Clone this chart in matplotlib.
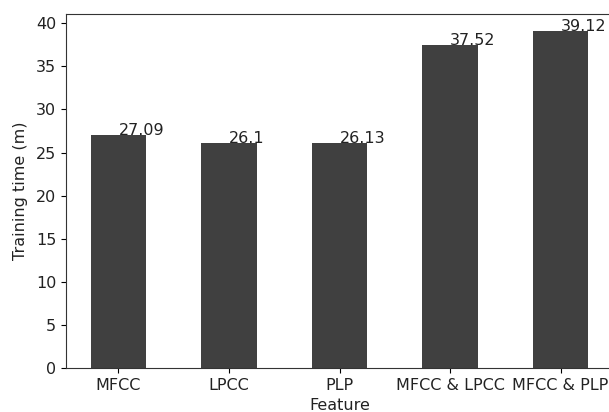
import matplotlib
matplotlib.use("Agg")
import matplotlib.pyplot as plt

features = ["MFCC", "LPCC", "PLP", "MFCC & LPCC", "MFCC & PLP"]
tiempos = [27.09, 26.1, 26.13, 37.52, 39.12]

fs = 11.5
fig = plt.figure(figsize=(6.09, 4.12), dpi=100)
# los ejes se salen un poco por la derecha, como en la imagen original
ax = fig.add_axes([66/609, 44/412, 547/609, 354/412])
x = list(range(len(features)))
ax.bar(x, tiempos, width=0.5, color="#404040")
for i, v in enumerate(tiempos):
    ax.text(i, v, str(v), fontsize=fs, color="#222222")
ax.set_xticks(x)
ax.set_xticklabels(features, fontsize=fs, color="#222222")
ax.tick_params(axis="y", labelsize=fs, labelcolor="#222222")
for s in ax.spines.values():
    s.set_color("#333333")
ax.set_xlabel("Feature", fontsize=fs, color="#222222", labelpad=4)
ax.set_ylabel("Training time (m)", fontsize=fs, color="#222222", labelpad=6)
fig.savefig("out.png", dpi=100)
